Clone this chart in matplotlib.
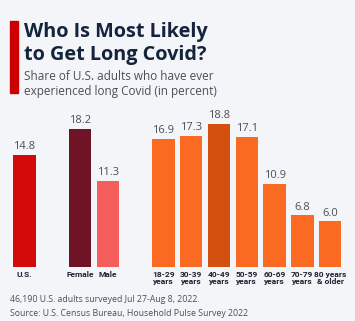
import matplotlib.pyplot as plt
from matplotlib.patches import Rectangle

# long Covid share by group (percent)
categories = ["U.S.", "Female", "Male", "18-29\nyears", "30-39\nyears",
              "40-49\nyears", "50-59\nyears", "60-69\nyears", "70-79\nyears",
              "80 years\n& older"]
values = [14.8, 18.2, 11.3, 16.9, 17.3, 18.8, 17.1, 10.9, 6.8, 6.0]
slots = [0, 2, 3, 5, 6, 7, 8, 9, 10, 11]
colors = ["#d20a0a", "#6e1426", "#f55d5d", "#fb6a21", "#fb6a21",
          "#d4500e", "#fb6a21", "#fb6a21", "#fb6a21", "#fb6a21"]

BG = "#f3f5f9"
NAVY = "#14243d"
GREY = "#4a4f58"

fig = plt.figure(figsize=(3.55, 3.21), dpi=100, facecolor=BG)

# red accent bar next to the title
fig.patches.append(Rectangle((10 / 355, 1 - 93 / 321), 8 / 355, 72 / 321,
                             transform=fig.transFigure, color="#cc0000"))

fig.text(24 / 355, 1 - 37 / 321, "Who Is Most Likely", fontsize=14.3,
         fontweight="bold", family="Open Sans", color=NAVY)
fig.text(24 / 355, 1 - 60 / 321, "to Get Long Covid?", fontsize=14.3,
         fontweight="bold", family="Open Sans", color=NAVY)
fig.text(24 / 355, 1 - 80 / 321, "Share of U.S. adults who have ever",
         fontsize=8.5, family="Open Sans", color=GREY)
fig.text(24 / 355, 1 - 95 / 321, "experienced long Covid (in percent)",
         fontsize=8.5, family="Open Sans", color=GREY)

ax = fig.add_axes([10.6 / 355, 54 / 321, 333.4 / 355, 152 / 321])
ax.set_facecolor(BG)
ax.bar(slots, values, width=0.81, color=colors)
for x, v in zip(slots, values):
    ax.text(x, v + 0.35, f"{v:.1f}", ha="center", va="bottom", fontsize=8,
            family="Open Sans", color=GREY)
for x, c in zip(slots, categories):
    ax.text(x, -0.5, c, ha="center", va="top", fontsize=6, linespacing=1.05,
            family="Roboto", fontweight="bold", color="#1d2330")

ax.set_xlim(-0.5, 11.5)
ax.set_ylim(0, 20)
ax.axis("off")

fig.text(10 / 355, 1 - 302 / 321,
         "46,190 U.S. adults surveyed Jul 27-Aug 8, 2022.",
         fontsize=6.3, family="Open Sans", color=GREY)
fig.text(10 / 355, 1 - 316 / 321,
         "Source: U.S. Census Bureau, Household Pulse Survey 2022",
         fontsize=6.3, family="Open Sans", color=GREY)

fig.savefig("out.png", dpi=100, facecolor=BG)
